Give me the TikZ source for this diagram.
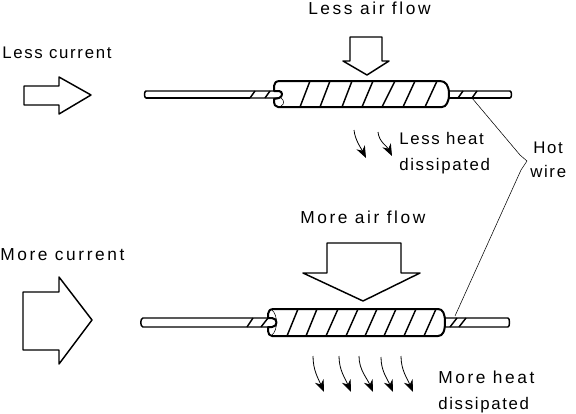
\documentclass[tikz,border=0pt]{standalone}
\usepackage{fontspec}
\setmainfont[LetterSpace=10]{Liberation Sans}
\newfontfamily\widefont[LetterSpace=15]{Liberation Sans}
\usetikzlibrary{arrows.meta}
\tikzset{
  x=0.75pt,y=-0.75pt,
  label/.style={font=\fontsize{12.6pt}{14pt}\selectfont,inner sep=0pt,anchor=base west},
  widelabel/.style={font=\fontsize{13pt}{14pt}\widefont,inner sep=0pt,anchor=base west},
  outline/.style={line width=1.1pt,line join=round,fill=white},
  heavy/.style={line width=1.5pt,line join=round,fill=white},
  stripe/.style={line width=1.1pt},
  leader/.style={line width=0.4pt},
  heatflow/.style={line width=0.6pt,-{Stealth[length=9pt,width=7pt]}},
}
\begin{document}
\begin{tikzpicture}
\useasboundingbox (0,0) rectangle (576,414);
% labels
\node[label] (lc) at (2,58) {Less current};
\node[widelabel] (la) at (308,14) {Less air flow};
\node[label] (lh1) at (399,144) {Less heat};
\node[label] (lh2) at (399,170) {dissipated};
\node[widelabel] (mc) at (0,260) {More current};
\node[widelabel] (ma) at (300,223) {More air flow};
\node[widelabel] (mh1) at (438,383) {More heat};
\node[label] (mh2) at (438,409) {dissipated};
\node[label] (hot) at (533,153) {Hot};
\node[label] (wire) at (530,177) {wire};
% big arrows
\draw[outline] (24,86)--(59,86)--(59,77)--(91,95)--(59,114)--(59,105)--(24,105)--cycle;
\draw[outline] (23,292)--(59,292)--(59,277)--(92,320)--(59,364)--(59,350)--(23,350)--cycle;
\draw[outline] (350,37)--(382,37)--(382,61)--(389,61)--(367,75)--(343,61)--(350,61)--cycle;
\draw[outline] (327,243)--(401,243)--(401,273)--(420,273)--(363,301)--(303,273)--(327,273)--cycle;
% top element
\draw[outline] (146,91)--(279,91) .. controls (283,91) and (283,98) .. (279,98) --(146,98) .. controls (144,98) and (144,91) .. (146,91) --cycle;
\draw[outline] (448,91)--(510,91) .. controls (512,91) and (512,98) .. (510,98)--(448,98)--cycle;
\draw[line width=1.5pt] (448,98)--(510,98);
\draw[line width=1.5pt] (146,98)--(250,98);
\draw[heavy] (280,81)--(440,81) .. controls (446,81) and (449,86) .. (449,94) .. controls (449,102) and (446,107) .. (442,107)--(278,107) .. controls (275,107) and (274,104) .. (274,102) -- (274,99) -- (279,98) .. controls (283,97) and (283,91) .. (279,91) -- (274,91) -- (274,86) .. controls (274,83) and (276,81) .. (280,81) -- cycle;
\draw[leader] (281,98) .. controls (284,100) and (285,104) .. (281,106);
\foreach \a/\b in {300/310,320/330,342/352,362/373,382/395,403/415,425/437}
  \draw[stripe] (\a,107)--(\b,81);
\foreach \a/\b in {250/255,265/270,458/463,472/477}
  \draw[stripe] (\a,98)--(\b,91);
% bottom element
\draw[outline] (143,318)--(272,318) .. controls (278,318) and (278,327) .. (272,327) --(143,327) .. controls (140,327) and (140,318) .. (143,318) --cycle;
\draw[outline] (445,318)--(508,318) .. controls (510,318) and (510,327) .. (508,327)--(445,327)--cycle;
\draw[heavy] (274,309)--(438,309) .. controls (443,309) and (445,314) .. (445,322) .. controls (445,331) and (443,336) .. (438,336)--(272,336) .. controls (270,336) and (268,334) .. (268,331) -- (268,327) -- (272,327) .. controls (278,327) and (278,318) .. (272,318) -- (268,318) -- (268,314) .. controls (268,311) and (270,309) .. (274,309) -- cycle;
\draw[leader] (272,310) .. controls (278,315) and (278,330) .. (272,335);
\foreach \a/\b in {287/298,306/317,326/338,346/358,365/377,384/396,404/416,424/436}
  \draw[stripe] (\a,336)--(\b,309);
\foreach \a/\b in {247/253,261/268,450/457,459/466}
  \draw[stripe] (\a,327)--(\b,318);
% leaders
\coordinate (kink) at (527,161);
\coordinate (top) at (472,98);
\coordinate (bot) at (455,316);
\draw[leader] (top)--(520,155)--(kink);
\draw[leader] (kink)--(521,170)--(bot);
% heat flow arrows
\foreach \a/\b/\c/\d in {354/130/366/158,378/132/392/156}
  \draw[heatflow] (\a,\b) .. controls (\a+1,\b+10) and (\c-5,\d-10) .. (\c,\d);
\foreach \a/\b/\c/\d in {313/356/324/392,339/356/351/392,359/356/373/392,381/357/393/392,401/356/413/392}
  \draw[heatflow] (\a,\b) .. controls (\a+0,\b+14) and (\c-6,\d-14) .. (\c,\d);
\end{tikzpicture}
\end{document}
